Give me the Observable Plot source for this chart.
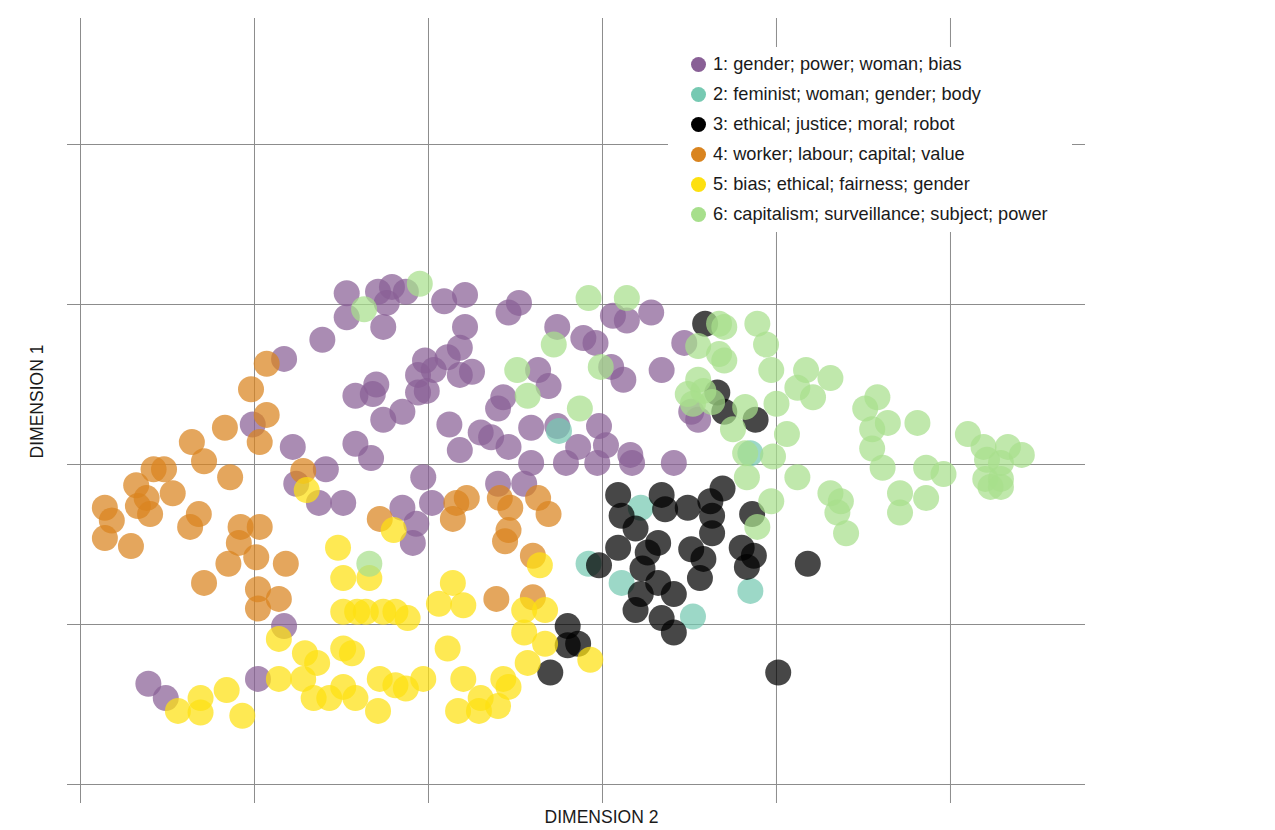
<!DOCTYPE html>
<html>
<head>
<meta charset="utf-8">
<script src="https://cdn.jsdelivr.net/npm/d3@7"></script>
<script src="https://cdn.jsdelivr.net/npm/@observablehq/plot@0.6"></script>
<style>
  html, body { margin: 0; padding: 0; background: #fff; }
  #wrap { position: relative; width: 1275px; height: 830px; font-family: "Liberation Sans", Arial, Helvetica, sans-serif; }
  #legend { position: absolute; left: 668px; top: 47px; width: 404px; height: 185px; background: #fff; padding-top: 2px; box-sizing: border-box; }
  .row { display: flex; align-items: center; height: 30px; font-size: 18.2px; color: #1a1a1a; white-space: nowrap; }
  .sw { width: 15px; height: 15px; border-radius: 50%; margin-left: 22.5px; margin-right: 7.5px; flex: none; }
</style>
</head>
<body>
<div id="wrap"><div id="legend"></div></div>
<script>
const topicLabels = [
  "1: gender; power; woman; bias",
  "2: feminist; woman; gender; body",
  "3: ethical; justice; moral; robot",
  "4: worker; labour; capital; value",
  "5: bias; ethical; fairness; gender",
  "6: capitalism; surveillance; subject; power"
];
const topicColors = ["#896096", "#76C9B2", "#000000", "#D9841F", "#FDE010", "#A7DF8C"];
const xTicks = [-3, -2, -1, 0, 1, 2];
const yTicks = [-2, -1, 0, 1, 2];

const topic1 = [[-1.47,1.07],[-1.29,1.08],[-1.21,1.11],[-1.13,1.08],[-1.24,1.01],[-1.47,0.92],[-1.26,0.86],[-1.61,0.78],[-1.83,0.66],[-0.91,1.02],[-0.79,1.06],[-0.54,0.95],[-0.48,1.01],[-0.79,0.86],[-0.82,0.73],[-1.02,0.65],[-1.06,0.56],[-0.97,0.59],[-0.89,0.67],[-0.82,0.56],[-0.75,0.58],[-1.01,0.46],[-1.06,0.45],[-1.42,0.43],[-1.30,0.50],[-1.32,0.44],[-1.15,0.33],[-1.26,0.28],[-1.42,0.13],[-1.33,0.04],[-1.78,0.11],[-2.01,0.25],[-1.59,-0.03],[-1.03,-0.08],[-0.88,0.25],[-0.82,0.09],[-0.70,0.20],[-0.64,0.17],[-0.54,0.11],[-0.41,0.23],[-0.26,0.24],[-0.14,0.11],[-0.02,0.24],[0.02,0.12],[-0.41,0.01],[-0.21,0.01],[-0.03,0.01],[0.16,0.06],[0.17,0.01],[0.41,0.01],[-0.60,-0.12],[-0.45,-0.12],[-0.57,0.42],[-0.60,0.35],[-0.37,0.59],[-0.31,0.49],[-0.26,0.86],[-0.11,0.79],[-0.04,0.76],[0.06,0.93],[0.14,0.90],[0.28,0.95],[0.05,0.61],[0.12,0.53],[0.34,0.59],[0.47,0.76],[0.51,0.33],[0.55,0.28],[-1.76,-0.12],[-1.63,-0.24],[-1.49,-0.24],[-1.15,-0.27],[-1.07,-0.37],[-1.09,-0.49],[-0.98,-0.24],[-1.83,-1.01],[-1.98,-1.34],[-2.61,-1.37],[-2.51,-1.46]];
const topic2 = [[-0.25,0.21],[0.22,-0.27],[-0.08,-0.62],[0.11,-0.74],[0.52,-0.95],[0.85,-0.79],[0.85,0.07]];
const topic3 = [[0.59,0.88],[0.66,0.45],[0.70,0.33],[0.88,0.28],[0.86,-0.31],[0.09,-0.19],[0.11,-0.32],[0.19,-0.40],[0.34,-0.19],[0.36,-0.28],[0.49,-0.27],[0.62,-0.23],[0.69,-0.15],[0.63,-0.32],[0.63,-0.43],[0.32,-0.49],[0.26,-0.55],[0.09,-0.52],[-0.02,-0.63],[0.23,-0.65],[0.22,-0.81],[0.32,-0.74],[0.41,-0.81],[0.19,-0.91],[0.34,-0.96],[0.41,-1.05],[0.51,-0.53],[0.58,-0.59],[0.56,-0.71],[0.80,-0.52],[0.87,-0.57],[0.83,-0.64],[1.18,-0.62],[1.01,-1.30],[-0.20,-1.01],[-0.14,-1.12],[-0.20,-1.13],[-0.30,-1.30]];
const topic4 = [[-1.93,0.63],[-2.02,0.47],[-1.93,0.31],[-2.17,0.23],[-1.97,0.14],[-2.36,0.14],[-2.58,-0.03],[-2.52,-0.03],[-2.29,0.02],[-2.14,-0.08],[-1.72,-0.04],[-2.68,-0.13],[-2.62,-0.21],[-2.67,-0.26],[-2.60,-0.31],[-2.47,-0.18],[-2.86,-0.27],[-2.82,-0.35],[-2.86,-0.46],[-2.71,-0.51],[-2.32,-0.31],[-2.37,-0.39],[-2.08,-0.39],[-1.97,-0.39],[-2.09,-0.49],[-1.99,-0.58],[-2.15,-0.62],[-1.82,-0.62],[-2.29,-0.74],[-1.98,-0.78],[-1.86,-0.84],[-1.98,-0.90],[-1.28,-0.34],[-0.84,-0.24],[-0.78,-0.21],[-0.86,-0.34],[-0.59,-0.21],[-0.53,-0.27],[-0.37,-0.21],[-0.31,-0.31],[-0.54,-0.41],[-0.56,-0.48],[-0.40,-0.57],[-0.61,-0.84],[-0.40,-0.83]];
const topic5 = [[-1.70,-0.16],[-1.20,-0.41],[-1.52,-0.52],[-1.49,-0.71],[-1.34,-0.71],[-1.49,-0.92],[-1.41,-0.92],[-1.36,-0.92],[-1.26,-0.92],[-1.19,-0.92],[-1.12,-0.96],[-1.86,-1.09],[-1.71,-1.18],[-1.64,-1.24],[-1.49,-1.15],[-1.44,-1.18],[-1.86,-1.34],[-1.72,-1.34],[-1.66,-1.46],[-1.57,-1.46],[-1.49,-1.39],[-1.42,-1.46],[-1.28,-1.34],[-1.19,-1.38],[-1.13,-1.40],[-1.29,-1.54],[-2.44,-1.54],[-2.31,-1.46],[-2.31,-1.55],[-2.16,-1.41],[-2.07,-1.57],[-0.36,-0.63],[-0.86,-0.74],[-0.94,-0.87],[-0.80,-0.88],[-0.45,-0.91],[-0.33,-0.91],[-0.45,-1.05],[-0.33,-1.12],[-0.89,-1.15],[-0.07,-1.22],[-0.43,-1.24],[-1.03,-1.34],[-0.80,-1.34],[-0.57,-1.34],[-0.54,-1.39],[-0.70,-1.46],[-0.60,-1.51],[-0.83,-1.54],[-0.71,-1.54]];
const topic6 = [[-1.05,1.13],[-1.37,0.97],[-0.08,1.04],[0.14,1.04],[-0.28,0.75],[-0.49,0.59],[-0.43,0.43],[-0.01,0.61],[-0.13,0.35],[0.55,0.74],[0.67,0.88],[0.70,0.86],[0.89,0.88],[0.94,0.75],[0.67,0.69],[0.70,0.65],[0.55,0.53],[0.49,0.44],[0.58,0.46],[0.63,0.39],[0.52,0.38],[0.82,0.36],[0.75,0.22],[0.82,0.07],[0.98,0.05],[0.83,-0.08],[1.12,-0.08],[0.97,0.59],[1.17,0.59],[1.31,0.54],[1.12,0.48],[1.21,0.42],[1.00,0.38],[1.06,0.19],[1.51,0.35],[1.58,0.42],[1.64,0.26],[1.55,0.22],[1.55,0.10],[1.81,0.26],[1.61,-0.02],[1.86,-0.02],[1.96,-0.06],[2.10,0.19],[2.19,0.11],[2.21,0.03],[2.33,0.11],[2.41,0.06],[2.29,0.01],[2.20,-0.09],[2.29,-0.09],[2.23,-0.14],[2.29,-0.14],[0.97,-0.23],[0.89,-0.39],[-1.34,-0.62],[1.31,-0.18],[1.37,-0.23],[1.35,-0.30],[1.40,-0.43],[1.71,-0.18],[1.71,-0.30],[1.86,-0.21]];

const groups = [topic1, topic2, topic3, topic4, topic5, topic6];
const rows = [];
groups.forEach((g, i) => g.forEach(([x, y]) => rows.push({x, y, topic: topicLabels[i]})));

const gridColor = "#8c8c8c";
const chart = Plot.plot({
  width: 1275,
  height: 830,
  marginLeft: 80,
  marginRight: 190,
  marginTop: 18,
  marginBottom: 46,
  style: {fontFamily: "'Liberation Sans', Arial, Helvetica, sans-serif", background: "#fff"},
  x: {domain: [-3, 2.776], label: null},
  y: {domain: [-2, 2.7875], label: null},
  color: {domain: topicLabels, range: topicColors},
  marks: [
    Plot.gridX(xTicks, {stroke: gridColor, strokeOpacity: 1, strokeWidth: 1}),
    Plot.gridY(yTicks, {stroke: gridColor, strokeOpacity: 1, strokeWidth: 1}),
    Plot.axisX(xTicks, {tickSize: 19, tickFormat: () => "", label: null, stroke: gridColor}),
    Plot.axisY(yTicks, {tickSize: 13, tickFormat: () => "", label: null, stroke: gridColor}),
    Plot.dot(rows, {x: "x", y: "y", r: 13, fill: "topic", fillOpacity: 0.72, stroke: "none"}),
    Plot.text(["DIMENSION 2"], {frameAnchor: "bottom", lineAnchor: "middle", textAnchor: "middle", dx: 18.5, dy: 33, fontSize: 17.5, fill: "#1a1a1a"}),
    Plot.text(["DIMENSION 1"], {frameAnchor: "left", lineAnchor: "middle", textAnchor: "middle", dx: -43, rotate: -90, fontSize: 17.5, fill: "#1a1a1a"})
  ]
});
const wrap = document.getElementById("wrap");
wrap.insertBefore(chart, wrap.firstChild);
chart.style.position = "absolute";
chart.style.left = "0";
chart.style.top = "0";

const legend = document.getElementById("legend");
topicLabels.forEach((t, i) => {
  const row = document.createElement("div");
  row.className = "row";
  const sw = document.createElement("span");
  sw.className = "sw";
  sw.style.background = topicColors[i];
  const tx = document.createElement("span");
  tx.textContent = t;
  row.appendChild(sw);
  row.appendChild(tx);
  legend.appendChild(row);
});
</script>
</body>
</html>
